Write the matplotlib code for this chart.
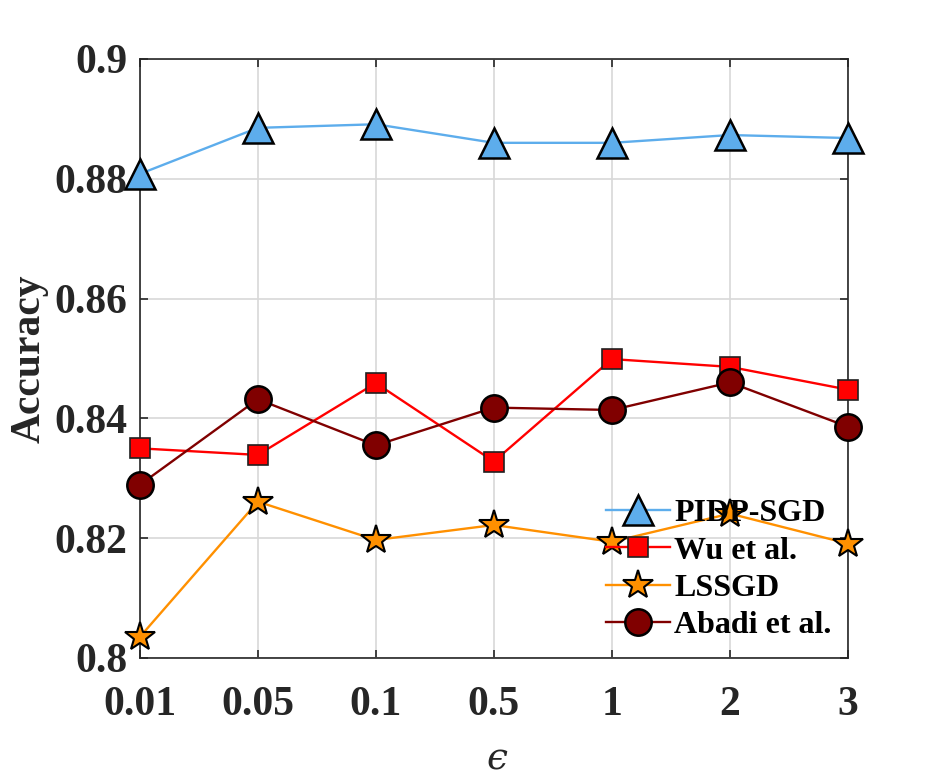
import numpy as np
import matplotlib
matplotlib.use('Agg')
import matplotlib.pyplot as plt

plt.rcParams['font.family'] = ['Liberation Serif', 'DejaVu Serif']

# data
eps_labels = ['0.01', '0.05', '0.1', '0.5', '1', '2', '3']
pidp = [0.8808, 0.8885, 0.8891, 0.8860, 0.8860, 0.8873, 0.8868]
wu = [0.8350, 0.8339, 0.8459, 0.8328, 0.8499, 0.8486, 0.8448]
lssgd = [0.8035, 0.8261, 0.8197, 0.8222, 0.8194, 0.8241, 0.8191]
abadi = [0.8289, 0.8432, 0.8355, 0.8418, 0.8414, 0.8460, 0.8386]

x = np.arange(len(eps_labels))

fig = plt.figure(figsize=(9.38, 7.81), dpi=100)
ax = fig.add_axes([0.149, 0.1575, 0.755, 0.767])

ax.plot(x, pidp, color='#5DADEC', lw=1.7, marker='^', ms=21,
        mfc='#5DADEC', mec='black', mew=1.8, label='PIDP-SGD', clip_on=False, zorder=5)
ax.plot(x, wu, color='#FF0000', lw=1.7, marker='s', ms=14,
        mfc='#FF0000', mec='#202020', mew=1.2, label='Wu et al.', clip_on=False, zorder=4)
ax.plot(x, lssgd, color='#FF9000', lw=1.7, marker='*', ms=22,
        mfc='#FF9000', mec='black', mew=1.5, label='LSSGD', clip_on=False, zorder=4)
ax.plot(x, abadi, color='#800000', lw=1.7, marker='o', ms=19,
        mfc='#800000', mec='black', mew=1.8, label='Abadi et al.', clip_on=False, zorder=4)

ax.set_xlim(0, len(x) - 1)
ax.set_ylim(0.8, 0.9)
ax.set_xticks(x)
ax.set_xticklabels(eps_labels)
ax.set_yticks([0.8, 0.82, 0.84, 0.86, 0.88, 0.9])
ax.set_yticklabels(['0.8', '0.82', '0.84', '0.86', '0.88', '0.9'])

for lab in ax.get_xticklabels() + ax.get_yticklabels():
    lab.set_fontsize(30)
    lab.set_fontweight('bold')
    lab.set_color('#262626')

ax.tick_params(direction='in', length=6, width=1.2, top=True, right=True,
               colors='#262626')
ax.tick_params(axis='y', pad=9)
ax.tick_params(axis='x', pad=20)
for s in ax.spines.values():
    s.set_color('#262626')
    s.set_linewidth(1.2)

ax.grid(True, color='#d8d8d8', lw=1.2)
ax.set_axisbelow(True)

ax.set_ylabel('Accuracy', fontsize=30, fontweight='bold', color='#262626')
ax.yaxis.set_label_coords(-0.128, 0.5)
ax.set_xlabel('\u03f5', fontsize=27, style='italic', color='#262626',
              family=['DejaVu Serif'])
ax.xaxis.set_label_coords(0.504, -0.14)

leg = ax.legend(loc='upper left', bbox_to_anchor=(0.64, 0.287), frameon=False,
                prop={'weight': 'bold', 'size': 23}, handlelength=2.0,
                handletextpad=0.15, labelspacing=0.25, borderaxespad=0)
for t in leg.get_texts():
    t.set_color('black')

fig.savefig('out.png', dpi=100)
